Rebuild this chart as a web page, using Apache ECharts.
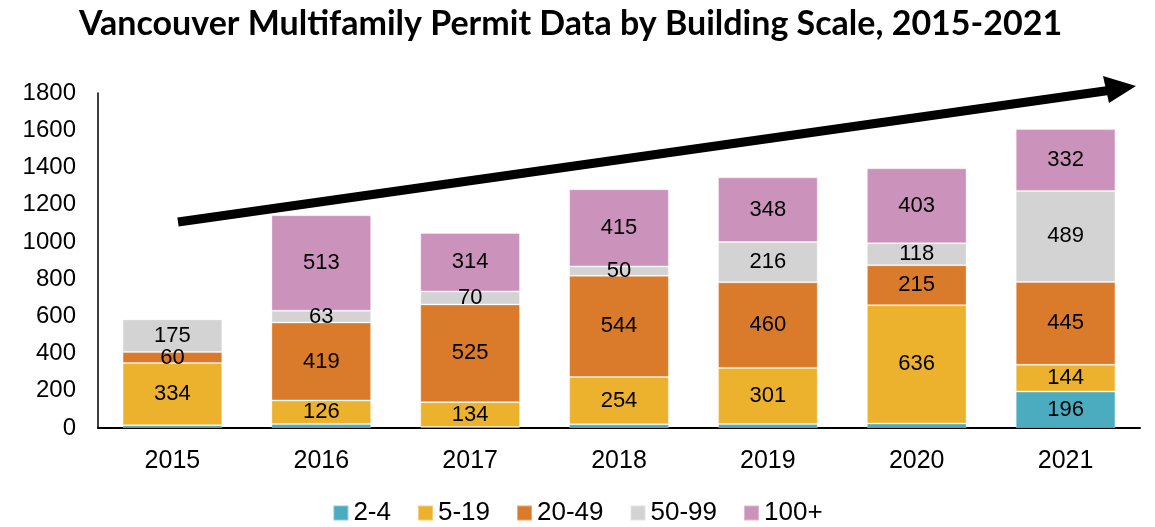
<!DOCTYPE html>
<html>
<head>
<meta charset="utf-8">
<script src="https://cdn.jsdelivr.net/npm/echarts@6/dist/echarts.min.js"></script>
<style>
  html, body { margin: 0; padding: 0; background: #fff; }
  #chart { width: 1155px; height: 527px; }
</style>
</head>
<body>
<div id="chart"></div>
<script>
const years = ['2015', '2016', '2017', '2018', '2019', '2020', '2021'];
const scale2to4 = [15, 22, 5, 20, 22, 24, 196];
const scale5to19 = [334, 126, 134, 254, 301, 636, 144];
const scale20to49 = [60, 419, 525, 544, 460, 215, 445];
const scale50to99 = [175, 63, 70, 50, 216, 118, 489];
const scale100plus = [0, 513, 314, 415, 348, 403, 332];
const yTicks = [0, 200, 400, 600, 800, 1000, 1200, 1400, 1600, 1800];

const chart = echarts.init(document.getElementById('chart'));

const makeSeries = (name, data, color) => ({
  name: name,
  type: 'bar',
  stack: 'total',
  barWidth: '67%',
  data: data,
  itemStyle: { color: color, borderColor: 'rgba(255,255,255,0.35)', borderWidth: 1 },
  label: {
    show: true,
    position: 'inside',
    color: '#000',
    fontSize: 22,
    fontFamily: 'Liberation Sans',
    // tiny segments carry no label in the original
    formatter: (p) => (p.value >= 40 ? p.value : '')
  }
});

const option = {
  animation: false,
  title: {
    text: 'Vancouver Multifamily Permit Data by Building Scale, 2015-2021',
    left: 74,
    top: 2,
    textStyle: { color: '#000', fontSize: 34, fontWeight: 'bold', fontFamily: 'Lato' }
  },
  legend: {
    bottom: -4,
    itemWidth: 15,
    itemHeight: 15,
    itemGap: 26,
    icon: 'rect',
    textStyle: { color: '#000', fontSize: 26, fontFamily: 'Liberation Sans' }
  },
  grid: { left: 98, right: 15, top: 93, bottom: 99 },
  xAxis: {
    type: 'category',
    data: years,
    axisLine: { show: true, lineStyle: { color: '#000', width: 2 } },
    axisTick: { show: false },
    axisLabel: { color: '#000', fontSize: 25, fontFamily: 'Liberation Sans', margin: 21 }
  },
  yAxis: {
    type: 'value',
    min: yTicks[0],
    max: yTicks[yTicks.length - 1],
    interval: 200,
    axisLine: { show: true, lineStyle: { color: '#000', width: 1.5 } },
    axisTick: { show: false },
    splitLine: { show: false },
    axisLabel: {
      color: '#000',
      fontSize: 24,
      fontFamily: 'Liberation Sans',
      margin: 22,
      formatter: (v) => String(v)
    }
  },
  series: [
    makeSeries('2-4', scale2to4, '#4BACC0'),
    makeSeries('5-19', scale5to19, '#ECB22E'),
    makeSeries('20-49', scale20to49, '#D97B2A'),
    makeSeries('50-99', scale50to99, '#D3D3D3'),
    makeSeries('100+', scale100plus, '#CB93BB')
  ],
  graphic: [
    {
      type: 'line',
      shape: { x1: 178, y1: 222, x2: 1112, y2: 90 },
      style: { stroke: '#000', lineWidth: 9 }
    },
    {
      type: 'polygon',
      shape: { points: [[1136, 86], [1103, 76], [1109, 103]] },
      style: { fill: '#000' }
    }
  ]
};

chart.setOption(option);
</script>
</body>
</html>
